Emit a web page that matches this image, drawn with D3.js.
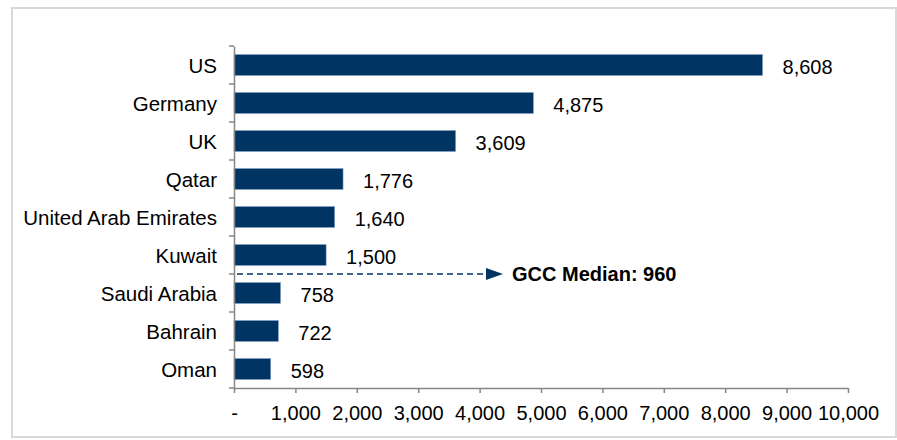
<!DOCTYPE html>
<html>
<head>
<meta charset="utf-8">
<script src="https://cdn.jsdelivr.net/npm/d3@7"></script>
<style>
    html, body { margin: 0; padding: 0; background: #fff; }
    svg { display: block; font-family: "Liberation Sans", Arial, sans-serif; }
    .axis path, .axis line { stroke: #868686; stroke-width: 1.5; }
    .axis text { fill: #000; font-size: 20px; }
</style>
</head>
<body>
<svg width="897" height="440"></svg>
<script>
const categories = ['US', 'Germany', 'UK', 'Qatar', 'United Arab Emirates', 'Kuwait', 'Saudi Arabia', 'Bahrain', 'Oman'];
const values = [8608, 4875, 3609, 1776, 1640, 1500, 758, 722, 598];
const xTicks = [0, 1000, 2000, 3000, 4000, 5000, 6000, 7000, 8000, 9000, 10000];
const medianLabel = 'GCC Median: 960';
const medianAfter = 'Kuwait'; // line drawn under this bar

const BAR_COLOR = '#003462';

let svg = d3.select('svg');

// frame
svg.append('rect')
    .attr('x', 12).attr('y', 8)
    .attr('width', 884).attr('height', 429)
    .attr('fill', 'none')
    .attr('stroke', '#d9d9d9')
    .attr('stroke-width', 2);

let x = d3.scaleLinear()
    .domain([0, 10000])
    .range([234, 848]);

let y = d3.scaleBand()
    .domain(categories)
    .range([46, 388])
    .paddingInner(0.45)
    .paddingOuter(0.225);

// bars
svg.selectAll('.bar')
    .data(values)
    .enter()
    .append('rect')
    .classed('bar', true)
    .attr('x', x(0))
    .attr('y', (d, i) => y(categories[i]))
    .attr('width', d => x(d) - x(0))
    .attr('height', y.bandwidth())
    .attr('fill', BAR_COLOR)
    .attr('stroke', '#7f9cbf')
    .attr('stroke-width', 0.6);

// value labels
svg.selectAll('.val')
    .data(values)
    .enter()
    .append('text')
    .classed('val', true)
    .attr('x', d => x(d) + 20)
    .attr('y', (d, i) => y(categories[i]) + y.bandwidth() / 2 + 2)
    .attr('dy', '0.35em')
    .attr('font-size', 20)
    .text(d => d3.format(',')(d));

// x axis
svg.append('g')
    .classed('axis', true)
    .attr('transform', `translate(0, ${y.range()[1]})`)
    .call(d3.axisBottom(x)
        .tickValues(xTicks)
        .tickSize(5)
        .tickSizeOuter(0)
        .tickPadding(13)
        .tickFormat(d => d === 0 ? '-' : d3.format(',')(d)));

// y axis (labels only, ticks at band edges added below)
let yAxis = svg.append('g')
    .classed('axis', true)
    .attr('transform', `translate(${x(0)}, 0)`)
    .call(d3.axisLeft(y).tickSize(0).tickPadding(17).tickSizeOuter(0));
yAxis.selectAll('text').attr('dy', '0.4em').style('font-size', '20.5px');

let edges = d3.range(categories.length + 1).map(i => y.range()[0] + i * y.step());
yAxis.selectAll('.edge')
    .data(edges)
    .enter()
    .append('line')
    .classed('edge', true)
    .attr('x1', -5).attr('x2', 0)
    .attr('y1', d => d).attr('y2', d => d);

// median marker
let my = y(medianAfter) + y.bandwidth() + y.step() * y.paddingInner() / 2;
svg.append('line')
    .attr('x1', x(0) + 3).attr('x2', 488)
    .attr('y1', my).attr('y2', my)
    .attr('stroke', BAR_COLOR)
    .attr('stroke-width', 1.5)
    .attr('stroke-dasharray', '6,4');
svg.append('path')
    .attr('d', `M486,${my - 6}L503,${my}L486,${my + 6}Z`)
    .attr('fill', BAR_COLOR);
svg.append('text')
    .attr('x', 512)
    .attr('y', my)
    .attr('dy', '0.35em')
    .attr('font-size', 20)
    .attr('font-weight', 'bold')
    .text(medianLabel);
</script>
</body>
</html>
